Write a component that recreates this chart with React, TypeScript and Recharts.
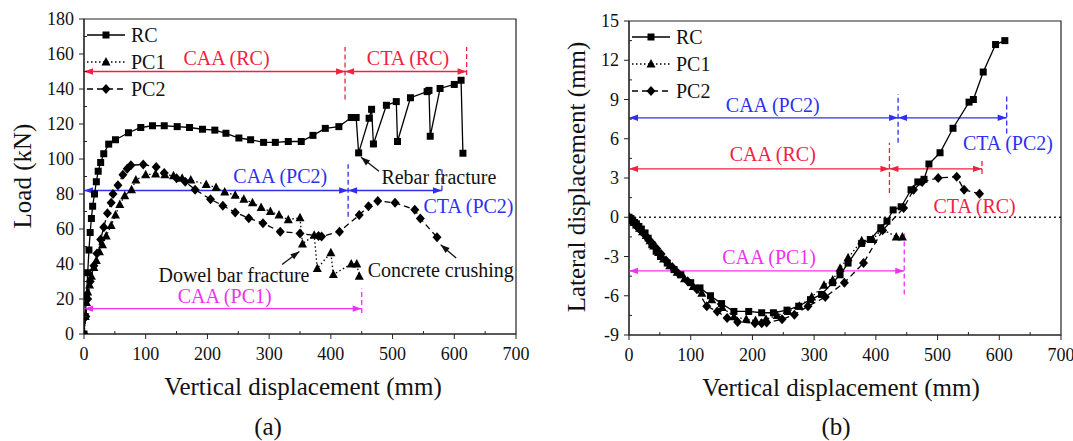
import React from "react";
import {
  ComposedChart,
  Line,
  XAxis,
  YAxis,
  ReferenceLine,
  ReferenceDot,
  ReferenceArea,
} from "recharts";

type Pt = { x: number; y: number };

// ---- (a) load vs vertical displacement ----
const rcLoad: Pt[] = [
  { x: 0, y: 0 }, { x: 2, y: 10 }, { x: 4, y: 22 }, { x: 6, y: 35 }, { x: 8, y: 48 },
  { x: 10, y: 58 }, { x: 12, y: 66 }, { x: 14, y: 73 }, { x: 17, y: 80 }, { x: 20, y: 87 },
  { x: 23, y: 93 }, { x: 27, y: 98 }, { x: 32, y: 103 }, { x: 40, y: 108.5 }, { x: 51, y: 111 },
  { x: 72, y: 115 }, { x: 92, y: 118 }, { x: 111, y: 119 }, { x: 130, y: 119 }, { x: 151, y: 118.5 },
  { x: 171, y: 118 }, { x: 192, y: 117 }, { x: 212, y: 116.5 }, { x: 230, y: 114.7 }, { x: 251, y: 112 },
  { x: 270, y: 111 }, { x: 291, y: 109.5 }, { x: 310, y: 109.5 }, { x: 331, y: 110 }, { x: 352, y: 110 },
  { x: 371, y: 113.5 }, { x: 391, y: 117.5 }, { x: 413, y: 118.5 }, { x: 433, y: 123.7 }, { x: 441, y: 123.7 },
  { x: 445, y: 103.5 }, { x: 462, y: 123.3 }, { x: 466, y: 128.4 }, { x: 469, y: 108.6 }, { x: 490, y: 130.7 },
  { x: 506, y: 132.8 }, { x: 508, y: 110 }, { x: 529, y: 135 }, { x: 556, y: 138.5 }, { x: 559, y: 139.2 },
  { x: 561, y: 113 }, { x: 577, y: 140.3 }, { x: 600, y: 142.6 }, { x: 611, y: 145 }, { x: 614, y: 103.3 },
];

const pc1Load: Pt[] = [
  { x: 0, y: 0 }, { x: 2, y: 10 }, { x: 4, y: 18 }, { x: 6, y: 24 }, { x: 9, y: 28 },
  { x: 12, y: 33 }, { x: 16, y: 38 }, { x: 20, y: 42 }, { x: 25, y: 47 }, { x: 30, y: 51 },
  { x: 36, y: 56 }, { x: 44, y: 62 }, { x: 51, y: 68 }, { x: 58, y: 74 }, { x: 66, y: 79 },
  { x: 77, y: 82.5 }, { x: 84, y: 88 }, { x: 100, y: 91 }, { x: 116, y: 91.5 }, { x: 131, y: 91 },
  { x: 145, y: 90.5 }, { x: 159, y: 89 }, { x: 173, y: 88 }, { x: 198, y: 85.4 }, { x: 214, y: 83.7 },
  { x: 228, y: 81.2 }, { x: 245, y: 79.3 }, { x: 259, y: 77 }, { x: 273, y: 75 }, { x: 287, y: 72.3 },
  { x: 302, y: 70 }, { x: 316, y: 68 }, { x: 331, y: 65.3 }, { x: 350, y: 66.5 }, { x: 354, y: 51.5 },
  { x: 373, y: 56.5 }, { x: 378, y: 37.5 }, { x: 400, y: 46.5 }, { x: 404, y: 34 }, { x: 433, y: 40 },
  { x: 442, y: 40 }, { x: 446, y: 33 },
];

const pc2Load: Pt[] = [
  { x: 0, y: 0 }, { x: 3, y: 10 }, { x: 6, y: 20 }, { x: 10, y: 30 }, { x: 16, y: 39 },
  { x: 21, y: 46 }, { x: 27, y: 54 }, { x: 32, y: 61 }, { x: 38, y: 69 }, { x: 44, y: 75 },
  { x: 47, y: 80 }, { x: 55, y: 85 }, { x: 63, y: 91 }, { x: 70, y: 94.5 }, { x: 76, y: 96.5 },
  { x: 96, y: 96.8 }, { x: 117, y: 95.5 }, { x: 130, y: 92 }, { x: 150, y: 89 }, { x: 164, y: 87 },
  { x: 180, y: 82.5 }, { x: 205, y: 77 }, { x: 225, y: 73.3 }, { x: 245, y: 69.5 }, { x: 267, y: 66.2 },
  { x: 290, y: 63.3 }, { x: 318, y: 58.5 }, { x: 350, y: 57.5 }, { x: 380, y: 56 }, { x: 385, y: 55.7 },
  { x: 414, y: 58.5 }, { x: 446, y: 68 }, { x: 461, y: 73 }, { x: 476, y: 76 }, { x: 504, y: 75 },
  { x: 536, y: 71 }, { x: 545, y: 66 }, { x: 572, y: 55.3 },
];

// ---- (b) lateral vs vertical displacement ----
const rcLat: Pt[] = [
  { x: 0, y: 0 }, { x: 3, y: -0.1 }, { x: 6, y: -0.25 }, { x: 9, y: -0.4 }, { x: 12, y: -0.5 },
  { x: 16, y: -0.7 }, { x: 20, y: -0.9 }, { x: 26, y: -1.2 }, { x: 31, y: -1.6 }, { x: 37, y: -2.1 },
  { x: 44, y: -2.6 }, { x: 51, y: -3.0 }, { x: 62, y: -3.5 }, { x: 73, y: -4.0 }, { x: 84, y: -4.4 },
  { x: 100, y: -5.0 }, { x: 115, y: -5.4 }, { x: 132, y: -6.0 }, { x: 150, y: -6.6 }, { x: 170, y: -7.2 },
  { x: 194, y: -7.2 }, { x: 215, y: -7.3 }, { x: 234, y: -7.3 }, { x: 256, y: -7.1 }, { x: 275, y: -6.8 },
  { x: 294, y: -6.3 }, { x: 312, y: -5.9 }, { x: 330, y: -5.0 }, { x: 342, y: -4.4 }, { x: 355, y: -3.5 },
  { x: 377, y: -2.0 }, { x: 391, y: -1.7 }, { x: 408, y: -0.8 }, { x: 418, y: -0.3 }, { x: 428, y: 0.56 },
  { x: 441, y: 0.8 }, { x: 457, y: 2.1 }, { x: 468, y: 2.7 }, { x: 478, y: 2.9 }, { x: 486, y: 4.07 },
  { x: 504, y: 4.93 }, { x: 525, y: 6.8 }, { x: 551, y: 8.8 }, { x: 558, y: 9.0 }, { x: 574, y: 11.1 },
  { x: 594, y: 13.2 }, { x: 609, y: 13.5 },
];

const pc1Lat: Pt[] = [
  { x: 0, y: 0 }, { x: 4, y: -0.2 }, { x: 8, y: -0.4 }, { x: 12, y: -0.6 }, { x: 17, y: -0.85 },
  { x: 22, y: -1.1 }, { x: 28, y: -1.4 }, { x: 34, y: -1.8 }, { x: 40, y: -2.2 }, { x: 48, y: -2.7 },
  { x: 56, y: -3.2 }, { x: 66, y: -3.7 }, { x: 78, y: -4.2 }, { x: 90, y: -4.7 }, { x: 104, y: -5.3 },
  { x: 118, y: -5.8 }, { x: 134, y: -6.3 }, { x: 151, y: -6.9 }, { x: 170, y: -7.6 }, { x: 190, y: -7.8 },
  { x: 205, y: -7.9 }, { x: 222, y: -7.8 }, { x: 240, y: -7.5 }, { x: 258, y: -7.2 }, { x: 276, y: -6.8 },
  { x: 296, y: -6.1 }, { x: 316, y: -5.2 }, { x: 330, y: -4.8 }, { x: 342, y: -3.9 }, { x: 355, y: -3.1 },
  { x: 377, y: -1.8 }, { x: 395, y: -1.7 }, { x: 410, y: -0.9 }, { x: 433, y: -1.5 }, { x: 443, y: -1.5 },
];

const pc2Lat: Pt[] = [
  { x: 0, y: 0 }, { x: 5, y: -0.3 }, { x: 10, y: -0.55 }, { x: 15, y: -0.8 }, { x: 20, y: -1.05 },
  { x: 26, y: -1.35 }, { x: 32, y: -1.7 }, { x: 38, y: -2.0 }, { x: 45, y: -2.4 }, { x: 52, y: -2.8 },
  { x: 60, y: -3.3 }, { x: 70, y: -3.8 }, { x: 80, y: -4.3 }, { x: 95, y: -4.9 }, { x: 110, y: -5.5 },
  { x: 126, y: -6.8 }, { x: 143, y: -7.2 }, { x: 159, y: -7.7 }, { x: 176, y: -8.0 }, { x: 204, y: -8.1 },
  { x: 215, y: -8.1 }, { x: 223, y: -8.05 }, { x: 248, y: -7.8 }, { x: 268, y: -7.45 }, { x: 290, y: -6.8 },
  { x: 318, y: -6.1 }, { x: 349, y: -5.0 }, { x: 380, y: -3.5 }, { x: 411, y: -1.0 }, { x: 445, y: 0.7 },
  { x: 461, y: 2.1 }, { x: 475, y: 2.7 }, { x: 501, y: 3.0 }, { x: 531, y: 3.1 }, { x: 543, y: 2.1 },
  { x: 568, y: 1.8 },
];

const dispTicks = [0, 100, 200, 300, 400, 500, 600, 700];
const loadTicks = [0, 20, 40, 60, 80, 100, 120, 140, 160, 180];
const latTicks = [-9, -6, -3, 0, 3, 6, 9, 12, 15];

const RED = "#f2213f";
const BLUE = "#2f2ff0";
const MAG = "#f032f0";
const FONT = "'Liberation Serif', 'Times New Roman', serif";

type Seg = { x1: number; y1: number; x2: number; y2: number; color: string; dash?: string };
type Head = { x: number; y: number; dir: number; color: string };
type Note = { x: number; y: number; text: string; color: string };

// span markers: horizontal arrows + dashed dividers
const leftSegs: Seg[] = [
  { x1: 0, y1: 150, x2: 423, y2: 150, color: RED },
  { x1: 423, y1: 150, x2: 620, y2: 150, color: RED },
  { x1: 423, y1: 134, x2: 423, y2: 164, color: RED, dash: "5 3" },
  { x1: 620, y1: 148, x2: 620, y2: 164, color: RED, dash: "5 3" },
  { x1: 0, y1: 82, x2: 428, y2: 82, color: BLUE },
  { x1: 428, y1: 82, x2: 580, y2: 82, color: BLUE },
  { x1: 428, y1: 67, x2: 428, y2: 97, color: BLUE, dash: "5 3" },
  { x1: 580, y1: 82, x2: 580, y2: 95, color: BLUE, dash: "5 3" },
  { x1: 0, y1: 14.5, x2: 450, y2: 14.5, color: MAG },
  { x1: 450, y1: 12, x2: 450, y2: 26, color: MAG, dash: "5 3" },
  { x1: 478, y1: 93, x2: 449, y2: 101, color: "#111" },
  { x1: 321, y1: 39.7, x2: 349, y2: 47.2, color: "#111" },
  { x1: 603, y1: 43.4, x2: 578, y2: 51, color: "#111" },
];
const leftHeads: Head[] = [
  { x: 0, y: 150, dir: 180, color: RED },
  { x: 423, y: 150, dir: 0, color: RED },
  { x: 423, y: 150, dir: 180, color: RED },
  { x: 620, y: 150, dir: 0, color: RED },
  { x: 0, y: 82, dir: 180, color: BLUE },
  { x: 428, y: 82, dir: 0, color: BLUE },
  { x: 428, y: 82, dir: 180, color: BLUE },
  { x: 580, y: 82, dir: 0, color: BLUE },
  { x: 0, y: 14.5, dir: 180, color: MAG },
  { x: 450, y: 14.5, dir: 0, color: MAG },
  { x: 449, y: 101, dir: 140, color: "#111" },
  { x: 349, y: 47.2, dir: 37, color: "#111" },
  { x: 578, y: 51, dir: 140, color: "#111" },
];
const leftNotes: Note[] = [
  { x: 231, y: 158, text: "CAA (RC)", color: RED },
  { x: 525, y: 158, text: "CTA (RC)", color: RED },
  { x: 318, y: 90.5, text: "CAA (PC2)", color: BLUE },
  { x: 623, y: 73, text: "CTA (PC2)", color: BLUE },
  { x: 575, y: 89.5, text: "Rebar fracture", color: "#111" },
  { x: 243, y: 34, text: "Dowel bar fracture", color: "#111" },
  { x: 578, y: 36.5, text: "Concrete crushing", color: "#111" },
  { x: 228, y: 21.5, text: "CAA (PC1)", color: MAG },
];

const rightSegs: Seg[] = [
  { x1: 0, y1: 0, x2: 700, y2: 0, color: "#222", dash: "2 3" },
  { x1: 0, y1: 7.6, x2: 436, y2: 7.6, color: BLUE },
  { x1: 436, y1: 7.6, x2: 612, y2: 7.6, color: BLUE },
  { x1: 436, y1: 5.7, x2: 436, y2: 9.4, color: BLUE, dash: "5 3" },
  { x1: 612, y1: 6.4, x2: 612, y2: 9.4, color: BLUE, dash: "5 3" },
  { x1: 0, y1: 3.7, x2: 422, y2: 3.7, color: RED },
  { x1: 422, y1: 3.7, x2: 572, y2: 3.7, color: RED },
  { x1: 422, y1: 1.85, x2: 422, y2: 5.7, color: RED, dash: "5 3" },
  { x1: 572, y1: 3.3, x2: 572, y2: 4.4, color: RED, dash: "5 3" },
  { x1: 0, y1: -4.1, x2: 446, y2: -4.1, color: MAG },
  { x1: 446, y1: -5.9, x2: 446, y2: -1.2, color: MAG, dash: "5 3" },
];
const rightHeads: Head[] = [
  { x: 0, y: 7.6, dir: 180, color: BLUE },
  { x: 436, y: 7.6, dir: 0, color: BLUE },
  { x: 436, y: 7.6, dir: 180, color: BLUE },
  { x: 612, y: 7.6, dir: 0, color: BLUE },
  { x: 0, y: 3.7, dir: 180, color: RED },
  { x: 422, y: 3.7, dir: 0, color: RED },
  { x: 422, y: 3.7, dir: 180, color: RED },
  { x: 572, y: 3.7, dir: 0, color: RED },
  { x: 0, y: -4.1, dir: 180, color: MAG },
  { x: 446, y: -4.1, dir: 0, color: MAG },
];
const rightNotes: Note[] = [
  { x: 233, y: 8.6, text: "CAA (PC2)", color: BLUE },
  { x: 614, y: 5.7, text: "CTA (PC2)", color: BLUE },
  { x: 233, y: 4.8, text: "CAA (RC)", color: RED },
  { x: 560, y: 0.85, text: "CTA (RC)", color: RED },
  { x: 227, y: -3.0, text: "CAA (PC1)", color: MAG },
];

const Square = ({ cx, cy }: { cx: number; cy: number }) => (
  <rect x={cx - 3.5} y={cy - 3.5} width={7} height={7} fill="#000" />
);
const Tri = ({ cx, cy }: { cx: number; cy: number }) => (
  <polygon points={`${cx},${cy - 5} ${cx - 4.5},${cy + 3.5} ${cx + 4.5},${cy + 3.5}`} fill="#000" />
);
const Diamond = ({ cx, cy }: { cx: number; cy: number }) => (
  <polygon points={`${cx},${cy - 5} ${cx + 4.5},${cy} ${cx},${cy + 5} ${cx - 4.5},${cy}`} fill="#000" />
);

const dotFn = (Shape: any) => (p: any) => <Shape key={`d${p.index}`} cx={p.cx} cy={p.cy} />;

const withMinor = (majors: number[]) => {
  const out: number[] = [];
  majors.forEach((m, i) => {
    out.push(m);
    if (i < majors.length - 1) out.push((m + majors[i + 1]) / 2);
  });
  return out;
};

const xTick = (majors: number[]) => (p: any) => {
  const { x, y, payload } = p;
  const major = majors.includes(payload.value);
  return (
    <g>
      <line x1={x} x2={x} y1={y} y2={major ? y + 5 : y - 3} stroke="#222" />
      {major && (
        <text x={x} y={y + 20} textAnchor="middle" dominantBaseline="central" fontSize={18} fill="#111" fontFamily={FONT}>
          {payload.value}
        </text>
      )}
    </g>
  );
};

const yTick = (majors: number[]) => (p: any) => {
  const { x, y, payload } = p;
  const major = majors.includes(payload.value);
  return (
    <g>
      <line x1={x} x2={major ? x - 5 : x + 3} y1={y} y2={y} stroke="#222" />
      {major && (
        <text x={x - 10} y={y} textAnchor="end" dominantBaseline="central" fontSize={18} fill="#111" fontFamily={FONT}>
          {payload.value}
        </text>
      )}
    </g>
  );
};

// dir: 0 = right, 180 = left, 90 = up (screen), counter-clockwise
const headShape = (h: Head) => (p: any) => (
  <polygon
    points="0,0 -9,-3.2 -9,3.2"
    fill={h.color}
    transform={`translate(${p.cx},${p.cy}) rotate(${-h.dir})`}
  />
);

const noteShape = (n: Note) => (p: any) => (
  <text x={p.cx} y={p.cy} textAnchor="middle" dominantBaseline="central" fontSize={20} fill={n.color} fontFamily={FONT}>
    {n.text}
  </text>
);

const LegendBox = ({ left, top }: { left: number; top: number }) => {
  const rows = [
    { name: "RC", dash: undefined, Shape: Square },
    { name: "PC1", dash: "1.5 2.5", Shape: Tri },
    { name: "PC2", dash: "6 4", Shape: Diamond },
  ];
  return (
    <svg style={{ position: "absolute", left, top, overflow: "visible" }} width={100} height={80}>
      {rows.map((r, i) => (
        <g key={r.name}>
          <line x1={0} x2={38} y1={i * 27} y2={i * 27} stroke="#000" strokeWidth={1.3} strokeDasharray={r.dash} />
          <r.Shape cx={19} cy={i * 27} />
          <text x={44} y={i * 27} dominantBaseline="central" fontSize={20} fill="#111" fontFamily={FONT}>
            {r.name}
          </text>
        </g>
      ))}
    </svg>
  );
};

const Panel = (props: {
  width: number;
  margin: any;
  yDomain: [number, number];
  yTicks: number[];
  rc: Pt[];
  pc1: Pt[];
  pc2: Pt[];
  segs: Seg[];
  heads: Head[];
  notes: Note[];
}) => {
  const { width, margin, yDomain, yTicks, rc, pc1, pc2, segs, heads, notes } = props;
  return (
    <ComposedChart width={width} height={441} margin={margin}>
      <XAxis
        type="number"
        dataKey="x"
        domain={[0, 700]}
        ticks={withMinor(dispTicks)}
        interval={0}
        tickLine={false}
        tickSize={0}
        tickMargin={0}
        tick={xTick(dispTicks)}
        height={40}
        axisLine={{ stroke: "#222" }}
        allowDataOverflow
      />
      <YAxis
        type="number"
        dataKey="y"
        domain={yDomain}
        ticks={withMinor(yTicks)}
        interval={0}
        tickLine={false}
        tickSize={0}
        tickMargin={0}
        tick={yTick(yTicks)}
        width={50}
        axisLine={{ stroke: "#222" }}
        allowDataOverflow
      />
      <ReferenceArea x1={0} x2={700} y1={yDomain[0]} y2={yDomain[1]} fill="none" stroke="#222" strokeWidth={1.2} />
      {segs.map((s, i) => (
        <ReferenceLine
          key={`s${i}`}
          segment={[{ x: s.x1, y: s.y1 }, { x: s.x2, y: s.y2 }]}
          stroke={s.color}
          strokeWidth={1.3}
          strokeDasharray={s.dash}
        />
      ))}
      {heads.map((h, i) => (
        <ReferenceDot key={`h${i}`} x={h.x} y={h.y} r={0} ifOverflow="visible" shape={headShape(h)} />
      ))}
      {notes.map((n, i) => (
        <ReferenceDot key={`n${i}`} x={n.x} y={n.y} r={0} ifOverflow="visible" shape={noteShape(n)} />
      ))}
      <Line data={pc1} dataKey="y" type="linear" stroke="#000" strokeWidth={1.3} strokeDasharray="1.5 2.5"
        dot={dotFn(Tri)} activeDot={false} isAnimationActive={false} />
      <Line data={pc2} dataKey="y" type="linear" stroke="#000" strokeWidth={1.3} strokeDasharray="6 4"
        dot={dotFn(Diamond)} activeDot={false} isAnimationActive={false} />
      <Line data={rc} dataKey="y" type="linear" stroke="#000" strokeWidth={1.3}
        dot={dotFn(Square)} activeDot={false} isAnimationActive={false} />
    </ComposedChart>
  );
};

const titleStyle: React.CSSProperties = {
  position: "absolute",
  fontSize: 25,
  color: "#111",
  whiteSpace: "nowrap",
  transform: "translate(-50%, -50%)",
  lineHeight: 1,
};

export default function App() {
  return (
    <div style={{ position: "absolute", left: 0, top: 0, width: 1073, height: 441, background: "#fff", fontFamily: FONT, overflow: "hidden" }}>
      <div style={{ position: "absolute", left: 0, top: 0 }}>
        <Panel
          width={540}
          margin={{ top: 19, right: 24, bottom: 67, left: 34 }}
          yDomain={[0, 180]}
          yTicks={loadTicks}
          rc={rcLoad}
          pc1={pc1Load}
          pc2={pc2Load}
          segs={leftSegs}
          heads={leftHeads}
          notes={leftNotes}
        />
        <LegendBox left={87} top={35} />
      </div>
      <div style={{ position: "absolute", left: 540, top: 0 }}>
        <Panel
          width={533}
          margin={{ top: 21, right: 12, bottom: 66, left: 39 }}
          yDomain={[-9, 15]}
          yTicks={latTicks}
          rc={rcLat}
          pc1={pc1Lat}
          pc2={pc2Lat}
          segs={rightSegs}
          heads={rightHeads}
          notes={rightNotes}
        />
        <LegendBox left={92} top={37} />
      </div>
      <div style={{ ...titleStyle, left: 22, top: 176, transform: "translate(-50%, -50%) rotate(-90deg)" }}>Load (kN)</div>
      <div style={{ ...titleStyle, left: 303, top: 386 }}>Vertical displacement (mm)</div>
      <div style={{ ...titleStyle, left: 268, top: 426 }}>(a)</div>
      <div style={{ ...titleStyle, left: 576, top: 177, transform: "translate(-50%, -50%) rotate(-90deg)" }}>Lateral displacement (mm)</div>
      <div style={{ ...titleStyle, left: 841, top: 387 }}>Vertical displacement (mm)</div>
      <div style={{ ...titleStyle, left: 836, top: 426 }}>(b)</div>
    </div>
  );
}
